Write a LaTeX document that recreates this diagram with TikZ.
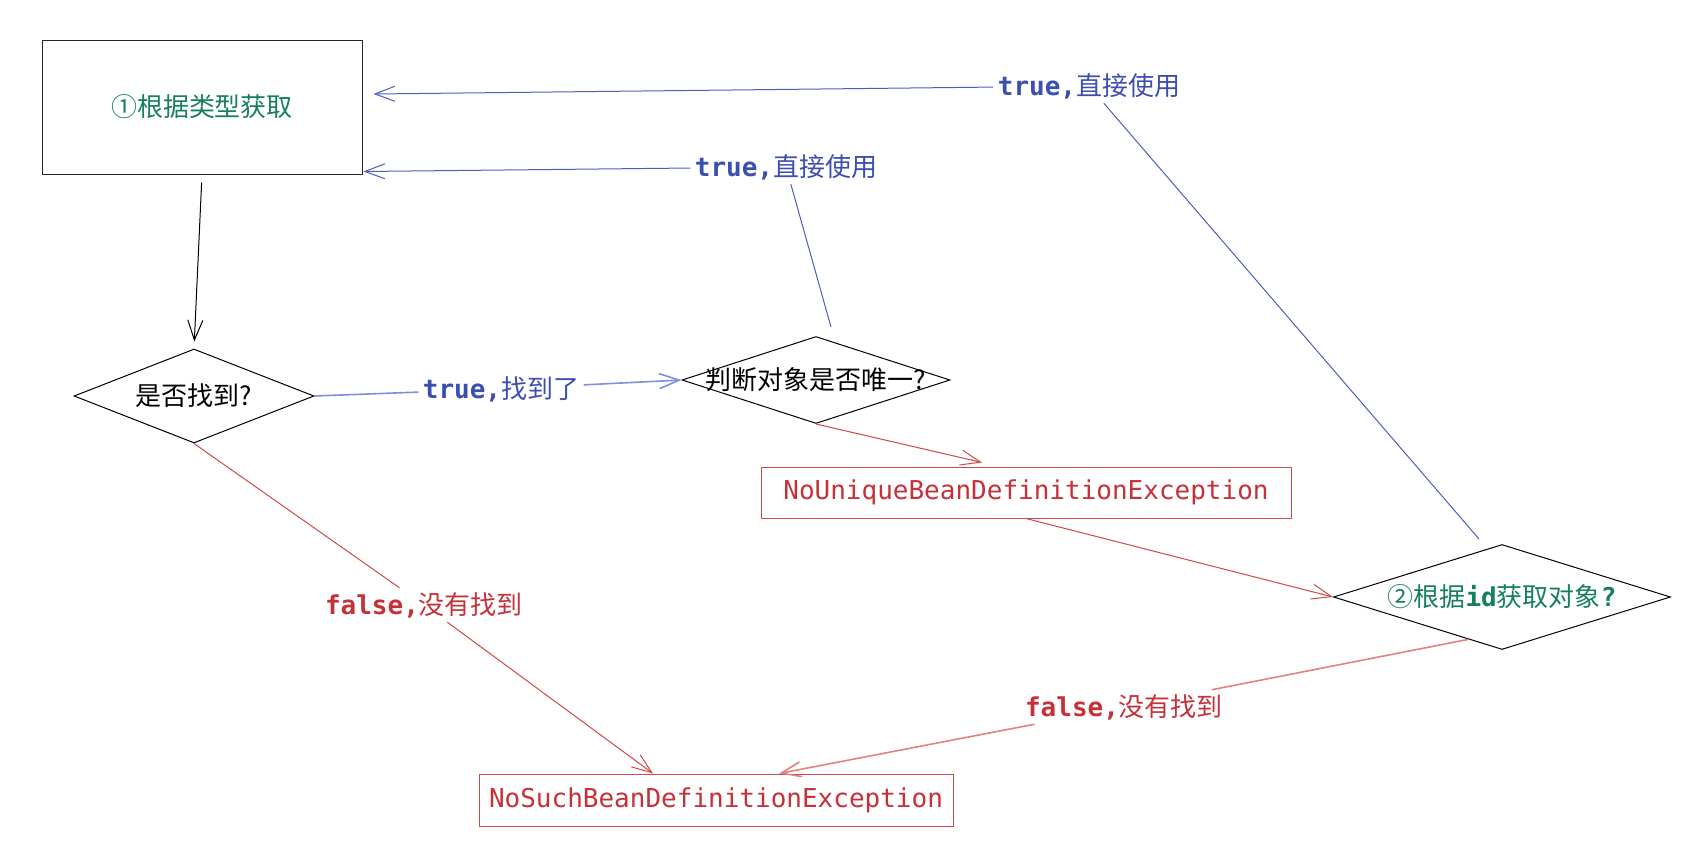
\documentclass[tikz,border=0pt]{standalone}
\usepackage{fontspec}
\setmainfont{DejaVu Sans Mono}
\newfontfamily\cjk{Noto Sans CJK SC}
\usetikzlibrary{arrows.meta,shapes.geometric,calc}
\definecolor{fgreen}{RGB}{21,128,90}
\definecolor{fblue}{RGB}{60,78,178}
\definecolor{dblue}{RGB}{78,92,190}
\definecolor{lblue}{RGB}{128,142,225}
\definecolor{fred}{RGB}{198,48,56}
\definecolor{dred}{RGB}{208,72,72}
\definecolor{lred}{RGB}{228,128,128}
\tikzset{
every node/.style={font=\fontsize{13}{15}\selectfont},
box/.style={draw=black!85,rectangle,line width=0.5pt},
decision/.style={draw,diamond,inner sep=0pt,line width=0.5pt},
exc/.style={draw=dred,rectangle,line width=0.5pt,text=fred},
ok/.style={text=fblue,inner sep=2pt},
fail/.style={text=fred,inner sep=2pt}
}
\begin{document}
\begin{tikzpicture}[x=0.5pt,y=-0.5pt,>={Straight Barb[length=10pt,width=7.5pt]},line width=0.5pt]
\useasboundingbox(0,0)rectangle(1698,857);

\node[box,minimum width=160pt,minimum height=67pt,text=fgreen](get)at(202,107){{\cjk ①根据类型获取}};
\node[decision,minimum width=120pt,minimum height=47pt,label=center:{\cjk 是否找到?}](found)at(194,396){};
\node[decision,minimum width=134pt,minimum height=43.5pt,label=center:{\cjk 判断对象是否唯一?}](only)at(816,380){};
\node[decision,minimum width=168.5pt,minimum height=52.5pt,label={[text=fgreen]center:{\cjk ②根据}\textbf{id}{\cjk 获取对象}\textbf{?}}](idget)at(1502,597){};
\node[exc,minimum width=265pt,minimum height=25.5pt](nounique)at(1026,492.5){NoUniqueBeanDefinitionException};
\node[exc,minimum width=237pt,minimum height=26pt](nosuch)at(716,800){NoSuchBeanDefinitionException};

\node[ok](ltop)at(1089,86){\textbf{true,}{\cjk 直接使用}};
\node[ok](lmid)at(786,167){\textbf{true,}{\cjk 直接使用}};
\node[ok](lfound)at(501,389){\textbf{true,}{\cjk 找到了}};
\node[fail](lfalse)at(424,605){\textbf{false,}{\cjk 没有找到}};
\node[fail](lmiss)at(1124,707){\textbf{false,}{\cjk 没有找到}};

\draw[->,shorten <=4pt,shorten >=3.5pt](get.south)--(found.north);
\draw[->,lblue,line width=0.8pt](found.east)--(lfound)--(only.west);
\draw[->,dblue]([shift={(7.5pt,4.5pt)}]only.north)--(lmid)--([shift={(0.5pt,1.5pt)}]get.south east);
\draw[->,dblue]([shift={(-11.5pt,2.5pt)}]idget.north)--(ltop)--([shift={(5.5pt,6.5pt)}]get.east);
\draw[->,dred](only.south)--([shift={(-22pt,2pt)}]nounique.north);
\draw[->,dred](nounique.south)--(idget.west);
\draw[->,dred](found.south)--(lfalse)--([xshift=-31.5pt]nosuch.north);
\draw[->,lred,line width=0.8pt]($(idget.south)!0.2!(idget.west)$)--(lmiss)--([xshift=31.5pt]nosuch.north);

\end{tikzpicture}
\end{document}
